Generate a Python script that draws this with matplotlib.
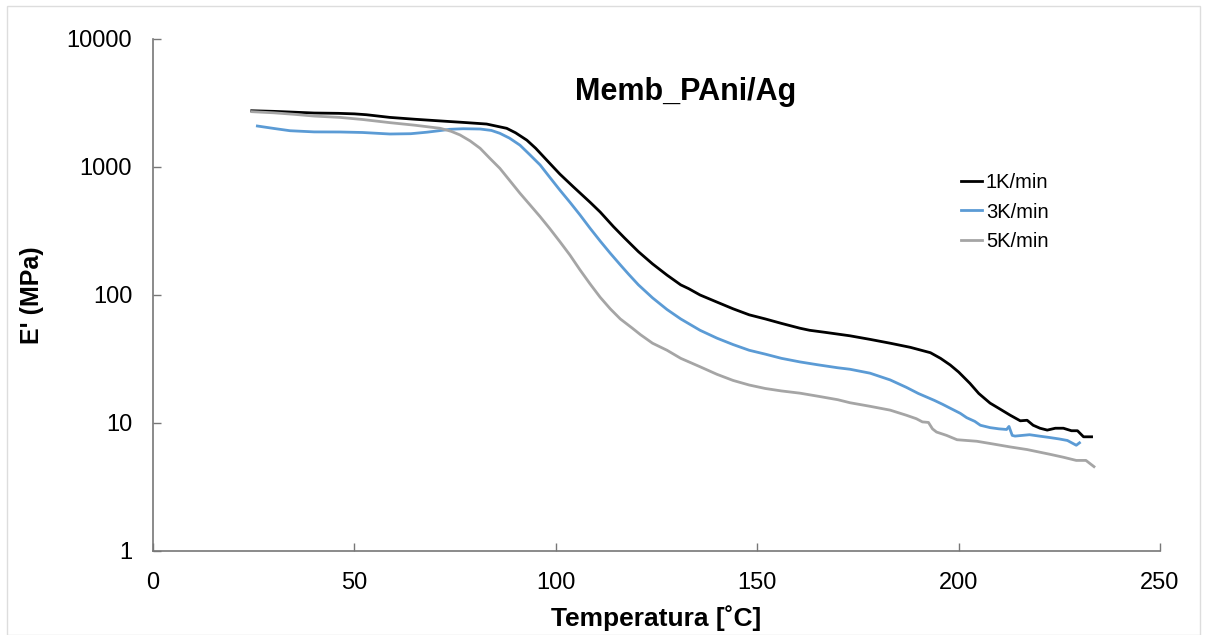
import matplotlib
matplotlib.use("Agg")
import matplotlib.pyplot as plt
from matplotlib.patches import Rectangle

plt.rcParams['font.family'] = ['Liberation Sans', 'DejaVu Sans']

# 1 K/min
t1 = [24.5, 30, 35, 40, 46, 50, 53, 58.8, 65, 71.3, 77, 82.8, 87.8, 90, 92.8, 95, 97.7, 101,
      104.3, 108.5, 111, 114.3, 117, 120.5, 124, 127.6, 131, 133, 135.8, 140, 144, 148, 152,
      156, 160.6, 163, 167, 173, 178, 183, 188, 193, 195.5, 197.9, 200, 202.8, 205, 207.8,
      210, 212.8, 215.3, 217, 218.5, 220.2, 222, 224, 226, 228, 229.5, 231, 233]
e1 = [2750, 2720, 2680, 2640, 2625, 2600, 2560, 2440, 2360, 2290, 2230, 2166, 2005, 1850, 1620,
      1400, 1135, 880, 702, 530, 445, 342, 280, 218, 175, 143, 120, 112, 100, 88, 78, 70, 65,
      60, 55, 53, 51, 48, 45, 42, 39, 35.4, 32, 28.4, 25, 20.4, 17, 14.3, 13, 11.5, 10.4,
      10.5, 9.6, 9.1, 8.8, 9.1, 9.1, 8.7, 8.7, 7.8, 7.8]

# 3 K/min
t3 = [25.9, 30, 34, 40, 46.4, 52, 58.8, 64, 68, 71, 73.7, 77, 81.2, 84, 86.1, 88.5, 91.1, 93.5,
      96.1, 98.5, 101, 103.5, 106, 108.5, 111, 113.5, 116, 118, 120.5, 124, 127.6, 131, 135.8,
      140, 144, 148, 152, 156, 160.6, 165, 170, 173, 178, 183, 187, 190, 194, 196, 198, 200.4,
      202, 204, 205.4, 207.8, 210, 211.9, 212.5, 213.3, 214, 217.6, 220, 222.6, 225, 227,
      229.2, 230]
e3 = [2090, 2000, 1920, 1880, 1877, 1860, 1810, 1820, 1870, 1920, 1970, 1990, 1980, 1930, 1833,
      1680, 1480, 1250, 1037, 830, 660, 530, 422, 332, 264, 212, 172, 146, 120, 95, 77, 65, 53,
      46, 41, 37, 34.5, 32, 30, 28.5, 27, 26.3, 24.5, 21.7, 19, 17, 15, 14, 13, 11.9, 11, 10.3,
      9.6, 9.2, 9.0, 8.9, 9.4, 8.0, 7.9, 8.1, 7.9, 7.7, 7.5, 7.3, 6.7, 7.0]

# 5 K/min
t5 = [24.5, 30, 35, 40, 46.4, 52, 58.8, 65, 71.3, 74, 76.2, 78.7, 81.2, 83.6, 86.1, 88.6, 91.1,
      93.6, 96.1, 98.5, 101, 103.5, 106, 108.5, 111, 113.5, 116, 119, 121, 124, 127.6, 131,
      135.8, 140, 144, 148, 152, 156, 160.6, 165, 170, 173, 178, 183, 187, 189.5, 191, 192.5,
      193.5, 194.5, 197, 199.6, 202, 204.5, 208, 212.8, 217, 222.6, 226, 229.2, 231.6, 233.6]
e5 = [2705, 2650, 2580, 2500, 2440, 2350, 2220, 2120, 2005, 1900, 1780, 1600, 1400, 1170, 976,
      780, 623, 505, 409, 330, 261, 205, 157, 122, 96, 78, 65, 55, 49, 42, 37, 32, 27.5, 24,
      21.5, 19.8, 18.6, 17.8, 17.1, 16.2, 15.2, 14.4, 13.5, 12.6, 11.5, 10.8, 10.2, 10.1, 9.0,
      8.5, 8.0, 7.4, 7.3, 7.2, 6.9, 6.5, 6.2, 5.7, 5.4, 5.1, 5.1, 4.56]

labels = ['1K/min', '3K/min', '5K/min']
colors = ['#000000', '#5b9bd5', '#a5a5a5']
x_ticks = [0, 50, 100, 150, 200, 250]
y_ticks = [1, 10, 100, 1000, 10000]

fig = plt.figure(figsize=(12.07, 6.35), dpi=100)
ax = fig.add_axes([0.1268, 0.1323, 0.8343, 0.8063])

for t, e, lab, c in zip([t1, t3, t5], [e1, e3, e5], labels, colors):
    ax.plot(t, e, color=c, lw=2.0, label=lab)

ax.set_yscale('log')
ax.set_xlim(0, 250)
ax.set_ylim(1, 10000)
ax.set_xticks(x_ticks)
ax.set_xticklabels([str(v) for v in x_ticks])
ax.set_yticks(y_ticks)
ax.set_yticklabels([str(v) for v in y_ticks])
ax.minorticks_off()
ax.tick_params(direction='in', length=6, width=1, color='#777777', labelsize=17)
ax.tick_params(axis='y', pad=15)
ax.tick_params(axis='x', pad=15)
for s in ['top', 'right']:
    ax.spines[s].set_visible(False)
for s in ['left', 'bottom']:
    ax.spines[s].set_color('#777777')
    ax.spines[s].set_linewidth(1.2)

ax.set_xlabel('Temperatura [˚C]', fontsize=19, fontweight='bold', labelpad=8)
ax.set_ylabel("E' (MPa)", fontsize=18, fontweight='bold', labelpad=16)
ax.text(0.529, 0.896, 'Memb_PAni/Ag', transform=ax.transAxes, ha='center', va='center',
        fontsize=22, fontweight='bold')

ax.legend(loc='upper left', bbox_to_anchor=(0.792, 0.757), frameon=False, fontsize=14.5,
          handlelength=1.05, handletextpad=0.2, labelspacing=0.5, borderpad=0)

fig.patches.append(Rectangle((0.006, 0.0), 0.988, 0.99, transform=fig.transFigure,
                             fill=False, edgecolor='#dddddd', lw=1))

fig.savefig('out.png', dpi=100)
